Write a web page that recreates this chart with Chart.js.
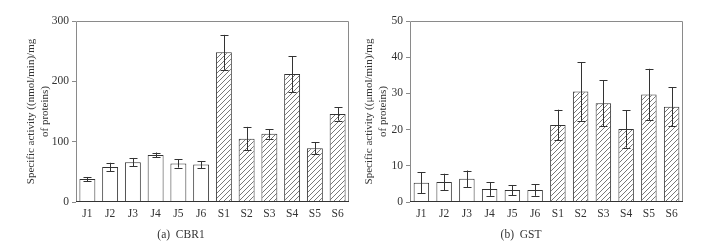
<!DOCTYPE html>
<html>
<head>
<meta charset="utf-8">
<script src="https://cdn.jsdelivr.net/npm/chart.js@4.4.1/dist/chart.umd.min.js"></script>
<style>
    html, body { margin: 0; padding: 0; background: #fff; }
    #wrap { position: relative; width: 724px; height: 248px; overflow: hidden; }
    .panel { position: absolute; top: 0; width: 362px; height: 248px; }
    .caption {
        position: absolute; top: 228px; font-family: 'Liberation Serif', 'DejaVu Serif', serif;
        font-size: 11.5px; color: #333; white-space: nowrap; transform: translateX(-50%);
    }
</style>
</head>
<body>
<div id="wrap">
    <div class="panel" style="left:0"><canvas id="cbr1" width="362" height="248"></canvas></div>
    <div class="panel" style="left:362px"><canvas id="gst" width="362" height="248"></canvas></div>
    <div class="caption" style="left:181px">(a)&nbsp; CBR1</div>
    <div class="caption" style="left:521px">(b)&nbsp; GST</div>
</div>
<script>
(function () {
    'use strict';

    var SAMPLES = ['J1', 'J2', 'J3', 'J4', 'J5', 'J6', 'S1', 'S2', 'S3', 'S4', 'S5', 'S6'];

    // CBR1, (nmol/min)/mg of proteins
    var CBR1_MEAN = [38, 58, 66, 78, 64, 62, 248, 105, 113, 212, 89, 146];
    var CBR1_ERR = [3.5, 7, 7, 4, 7, 6, 29, 19.5, 8, 30, 10, 11];
    var CBR1_TICKS = [0, 100, 200, 300];

    // GST, (umol/min)/mg of proteins
    var GST_MEAN = [5.3, 5.5, 6.4, 3.6, 3.3, 3.3, 21.3, 30.5, 27.3, 20.2, 29.7, 26.3];
    var GST_ERR = [2.9, 2.3, 2.3, 1.9, 1.4, 1.6, 4.2, 8.1, 6.3, 5.2, 7.1, 5.4];
    var GST_TICKS = [0, 10, 20, 30, 40, 50];

    var FONT = 'Liberation Serif, DejaVu Serif, serif';
    var INK = '#333333';
    var FRAME = '#8a8a8a';

    function hatch() {
        var c = document.createElement('canvas');
        c.width = 5; c.height = 5;
        var g = c.getContext('2d');
        g.fillStyle = '#ffffff';
        g.fillRect(0, 0, 5, 5);
        g.strokeStyle = '#555555';
        g.lineWidth = 0.8;
        g.beginPath();
        g.moveTo(-1, 6); g.lineTo(6, -1);
        g.moveTo(-1, 1); g.lineTo(1, -1);
        g.moveTo(4, 6); g.lineTo(6, 4);
        g.stroke();
        return g.createPattern(c, 'repeat');
    }

    var errorBars = {
        id: 'errorBars',
        afterDatasetsDraw: function (chart) {
            var ctx = chart.ctx;
            var ys = chart.scales.y;
            var ds = chart.data.datasets[0];
            var meta = chart.getDatasetMeta(0);
            ctx.save();
            ctx.strokeStyle = INK;
            ctx.lineWidth = 1;
            for (var i = 0; i < meta.data.length; i++) {
                var x = Math.round(meta.data[i].x) + 0.5;
                var v = ds.data[i], e = ds._err[i];
                var top = ys.getPixelForValue(v + e);
                var bot = ys.getPixelForValue(v - e);
                ctx.beginPath();
                ctx.moveTo(x, top); ctx.lineTo(x, bot);
                ctx.moveTo(x - 4, Math.round(top) + 0.5); ctx.lineTo(x + 4, Math.round(top) + 0.5);
                ctx.moveTo(x - 4, Math.round(bot) + 0.5); ctx.lineTo(x + 4, Math.round(bot) + 0.5);
                ctx.stroke();
            }
            ctx.restore();
        }
    };

    var frame = {
        id: 'frame',
        afterDraw: function (chart) {
            var a = chart.chartArea;
            var ctx = chart.ctx;
            ctx.save();
            ctx.strokeStyle = FRAME;
            ctx.lineWidth = 1;
            ctx.beginPath();
            ctx.moveTo(Math.round(a.left) + 0.5, Math.round(a.bottom));
            ctx.lineTo(Math.round(a.left) + 0.5, Math.round(a.top) + 0.5);
            ctx.lineTo(Math.round(a.right) - 0.5, Math.round(a.top) + 0.5);
            ctx.lineTo(Math.round(a.right) - 0.5, Math.round(a.bottom));
            ctx.stroke();
            ctx.strokeStyle = INK;
            ctx.beginPath();
            ctx.moveTo(a.left, Math.round(a.bottom) - 0.5);
            ctx.lineTo(a.right, Math.round(a.bottom) - 0.5);
            ctx.stroke();
            ctx.restore();
        }
    };

    function build(canvas, means, errs, ticks, unit, opts) {
        var pat = hatch();
        var fills = [];
        for (var i = 0; i < SAMPLES.length; i++) {
            fills.push(SAMPLES[i].charAt(0) === 'S' ? pat : '#ffffff');
        }
        return new Chart(canvas, {
            type: 'bar',
            data: {
                labels: SAMPLES,
                datasets: [{
                    data: means,
                    _err: errs,
                    backgroundColor: fills,
                    borderColor: INK,
                    borderWidth: 1,
                    categoryPercentage: 1,
                    barPercentage: opts.barPct
                }]
            },
            options: {
                responsive: false,
                animation: false,
                layout: { padding: { left: 0, top: 21, right: opts.padRight, bottom: 0 } },
                plugins: { legend: { display: false }, tooltip: { enabled: false } },
                scales: {
                    x: {
                        grid: { display: false },
                        border: { display: false },
                        ticks: { color: INK, font: { family: FONT, size: 11.5 }, padding: -3 },
                        afterFit: function (s) { s.height = 46; }
                    },
                    y: {
                        min: ticks[0],
                        max: ticks[ticks.length - 1],
                        afterBuildTicks: function (s) {
                            s.ticks = ticks.map(function (v) { return { value: v }; });
                        },
                        grid: { drawOnChartArea: false, drawTicks: true, tickLength: 4, color: FRAME },
                        border: { display: false },
                        ticks: { color: INK, font: { family: FONT, size: 11.5 }, padding: 3 },
                        title: {
                            display: true,
                            text: ['Specific activity ((' + unit + '/min)/mg', 'of proteins)'],
                            color: INK,
                            font: { family: FONT, size: 11, lineHeight: '14px' },
                            padding: { top: opts.titlePad, bottom: 0 }
                        },
                        afterFit: function (s) { s.width = opts.axisWidth; }
                    }
                }
            },
            plugins: [errorBars, frame]
        });
    }

    build(document.getElementById('cbr1'), CBR1_MEAN, CBR1_ERR, CBR1_TICKS, 'nmol',
        { barPct: 0.7, padRight: 13, axisWidth: 76, titlePad: 24 });
    build(document.getElementById('gst'), GST_MEAN, GST_ERR, GST_TICKS, '\u03bcmol',
        { barPct: 0.68, padRight: 41, axisWidth: 48, titlePad: 0 });
})();
</script>
</body>
</html>
